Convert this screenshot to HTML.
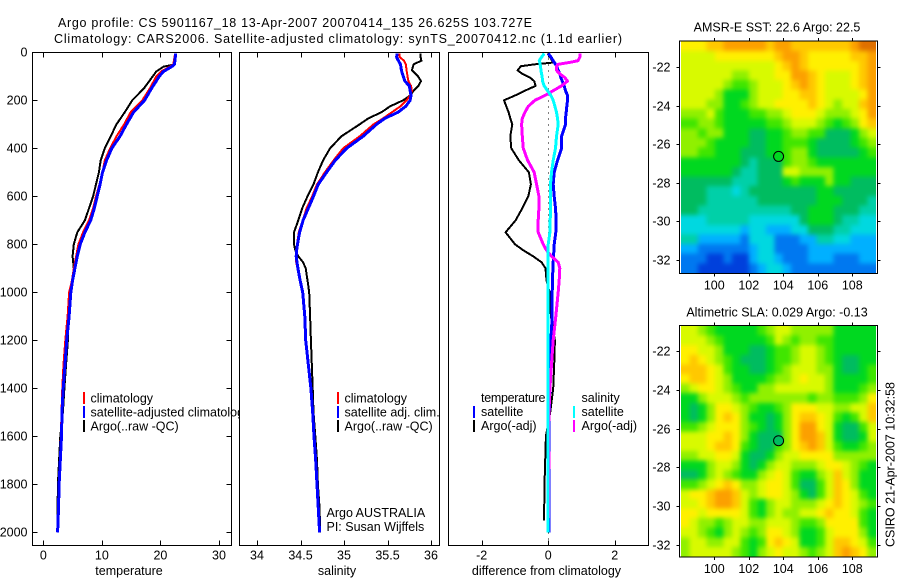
<!DOCTYPE html>
<html>
<head>
<meta charset="utf-8">
<title>Argo profile</title>
<style>
html,body{margin:0;padding:0;background:#fff;}
svg{display:block;font-family:"Liberation Sans",sans-serif;font-size:12.5px;fill:#000;}
</style>
</head>
<body>
<svg id="fig" xmlns="http://www.w3.org/2000/svg" width="900" height="580" viewBox="0 0 900 580">
  <defs>
    <clipPath id="clipLegend"><rect x="0" y="0" width="239" height="580"/></clipPath>
    <clipPath id="clip-sst"><rect x="681" y="41.5" width="195" height="231.5"/></clipPath>
    <clipPath id="clip-sla"><rect x="681" y="326" width="195" height="230.5"/></clipPath>
    <filter id="cellBlur" filterUnits="userSpaceOnUse" x="650" y="0" width="250" height="580" color-interpolation-filters="sRGB"><feGaussianBlur stdDeviation="2.4"/></filter>
  </defs>
  <rect x="0" y="0" width="900" height="580" fill="#fff"/>
  <text x="58" y="27" textLength="474" lengthAdjust="spacing">Argo profile: CS 5901167_18 13-Apr-2007 20070414_135 26.625S 103.727E</text>
  <text x="54" y="43" textLength="568" lengthAdjust="spacing">Climatology: CARS2006. Satellite-adjusted climatology: synTS_20070412.nc (1.1d earlier)</text>
  <g id="plots"></g>
  <g>
    <rect x="83" y="392" width="2" height="12" fill="#ff0000"/>
    <rect x="83" y="406" width="2" height="12" fill="#0000ff"/>
    <rect x="83" y="420" width="2" height="12" fill="#000000"/>
    <text x="90.5" y="402.5">climatology</text>
    <text x="90.5" y="416.5" clip-path="url(#clipLegend)">satellite-adjusted climatology</text>
    <text x="90.5" y="430.5">Argo(..raw -QC)</text>
  </g>
  <g>
    <rect x="337" y="392" width="2" height="12" fill="#ff0000"/>
    <rect x="337" y="406" width="2" height="12" fill="#0000ff"/>
    <rect x="337" y="420" width="2" height="12" fill="#000000"/>
    <text x="344.5" y="402.5">climatology</text>
    <text x="344.5" y="416.5">satellite adj. clim.</text>
    <text x="344.5" y="430.5">Argo(..raw -QC)</text>
    <text x="326.5" y="517">Argo AUSTRALIA</text>
    <text x="326.5" y="531">PI: Susan Wijffels</text>
  </g>
  <g>
    <text x="481" y="402" textLength="64.5" lengthAdjust="spacing">temperature</text>
    <text x="581.5" y="402">salinity</text>
    <rect x="473" y="406" width="2" height="12" fill="#0000ff"/>
    <rect x="473" y="420" width="2" height="12" fill="#000000"/>
    <rect x="573" y="406" width="2" height="12" fill="#00ffff"/>
    <rect x="573" y="420" width="2" height="12" fill="#ff00ff"/>
    <text x="481" y="416">satellite</text>
    <text x="481" y="430">Argo(-adj)</text>
    <text x="581.5" y="416">satellite</text>
    <text x="581.5" y="430">Argo(-adj)</text>
  </g>
  <text x="129" y="575" text-anchor="middle">temperature</text>
  <text x="337" y="575" text-anchor="middle">salinity</text>
  <text x="546.5" y="575" text-anchor="middle">difference from climatology</text>
  <text x="777" y="31.5" text-anchor="middle">AMSR-E SST: 22.6 Argo: 22.5</text>
  <text x="777" y="316.5" text-anchor="middle">Altimetric SLA: 0.029 Argo: -0.13</text>
  <text transform="translate(894.5,547) rotate(-90)" textLength="165" lengthAdjust="spacing">CSIRO 21-Apr-2007 10:32:58</text>
</svg>
<script>
// ---------- profile data ----------
const depthTicks = [0,200,400,600,800,1000,1200,1400,1600,1800,2000];
const tempTicks = [0,10,20,30];
const salTicks = [34,34.5,35,35.5,36];
const diffTicks = [-2,0,2];

const tempDepths = [5,50,60,80,100,150,200,250,300,350,400,450,500,550,600,650,700,750,800,850,900,950,1000,1100,1200,1300,1400,1500,1600,1700,1800,1900,2000];
const tempArgo = [22.6,22.5,20.5,19.3,18.7,17.2,15.2,13.9,12.5,11.5,10.5,9.8,9.5,9.0,8.5,7.8,7.1,5.8,5.2,5.0,5.2,4.9,4.7,4.25,4.2,3.9,3.6,3.35,2.9,2.7,2.5,2.45,2.4];
const tempClim = [22.5,22.2,21.6,20.1,19.3,18.2,16.9,14.9,13.8,12.5,11.4,10.5,10.1,9.6,9.0,8.5,7.8,6.8,6.0,5.6,5.2,4.9,4.4,4.15,3.75,3.45,3.25,3.1,3.0,2.85,2.65,2.55,2.4];
const tempSat = [22.6,22.4,21.9,20.5,19.8,18.5,17.3,15.4,14.2,13.1,11.7,10.8,10.1,9.7,9.2,8.7,8.1,7.1,6.3,5.8,5.4,5.0,4.7,4.4,4.0,3.7,3.4,3.2,3.1,2.9,2.7,2.6,2.45];

const salDepths = [5,20,35,50,75,100,120,140,160,180,200,225,250,275,300,350,400,450,500,550,600,650,700,750,800,825,850,875,900,950,1000,1100,1200,1300,1400,1500,1600,1700,1800,1900,2000];
const salArgo = [35.88,35.88,35.89,35.80,35.78,35.85,35.885,35.855,35.80,35.76,35.68,35.53,35.43,35.28,35.18,34.97,34.84,34.76,34.70,34.65,34.58,34.52,34.475,34.425,34.425,34.44,34.475,34.53,34.56,34.58,34.60,34.61,34.62,34.63,34.64,34.65,34.67,34.69,34.70,34.72,34.725];
const salClim = [35.64,35.64,35.69,35.71,35.72,35.73,35.74,35.77,35.78,35.76,35.72,35.65,35.55,35.45,35.34,35.18,34.99,34.88,34.78,34.69,34.635,34.57,34.525,34.48,34.46,34.45,34.445,34.45,34.465,34.495,34.52,34.545,34.565,34.595,34.625,34.645,34.66,34.68,34.695,34.71,34.72];
const salSat = [35.61,35.605,35.625,35.65,35.66,35.68,35.70,35.75,35.76,35.77,35.76,35.71,35.62,35.47,35.375,35.22,35.03,34.90,34.80,34.705,34.65,34.59,34.53,34.49,34.465,34.455,34.45,34.46,34.47,34.495,34.525,34.55,34.56,34.59,34.62,34.64,34.655,34.675,34.69,34.705,34.72];

const diffDepths = [5,20,35,42,50,58,75,90,105,120,140,160,180,200,225,250,275,300,350,400,450,500,550,600,650,700,750,800,825,850,875,900,950,1000,1100,1200,1300,1400,1500,1600,1700,1800,1900,1950,2000];
const diffTempArgo = [-0.02,0.05,0.12,0.2,-0.4,-0.82,-0.92,-0.78,-0.55,-0.42,-0.38,-0.7,-1.0,-1.33,-1.26,-1.19,-1.14,-1.08,-1.14,-1.11,-0.88,-0.58,-0.52,-0.6,-0.78,-0.98,-1.28,-1.0,-0.75,-0.45,-0.2,-0.08,-0.05,0.04,0.08,0.2,0.18,0.15,0.06,-0.07,-0.09,-0.11,-0.12,-0.13,null];
const diffTempSat = [0,0.08,0.15,0.18,0.22,0.25,0.3,0.35,0.38,0.42,0.48,0.52,0.58,0.58,0.56,0.54,0.52,0.52,0.4,0.4,0.28,0.18,0.15,0.18,0.22,0.24,0.23,0.18,0.17,0.16,0.15,0.14,0.13,0.12,0.12,0.08,0.06,0.05,0.03,0.02,0.02,0.02,0.02,0.02,0.02];
const diffSalArgo = [0.95,0.95,0.9,0.65,0.3,0.25,0.25,0.35,0.5,0.58,0.4,0.15,-0.1,-0.4,-0.6,-0.7,-0.78,-0.8,-0.78,-0.75,-0.62,-0.42,-0.35,-0.28,-0.28,-0.3,-0.3,-0.15,-0.05,0.1,0.3,0.35,0.33,0.3,0.23,0.15,0.1,0.05,0.02,0.01,0.02,0.01,0.01,0,0];
const diffSalSat = [-0.12,-0.2,-0.27,-0.25,-0.25,-0.23,-0.22,-0.2,-0.18,-0.17,-0.12,-0.02,0.08,0.15,0.2,0.25,0.28,0.3,0.25,0.22,0.15,0.1,0.07,0.07,0.07,0.06,0.05,0,-0.01,-0.01,-0.01,-0.01,-0.01,-0.01,-0.01,-0.01,-0.01,-0.01,-0.01,-0.01,-0.01,-0.01,-0.01,-0.01,-0.01];

// ---------- map data (values are colour-scale levels, low to high) ----------
const lonTicks = [100,102,104,106,108];
const latTicks = [-22,-24,-26,-28,-30,-32];
const floatLon = 103.727;
const floatLat = -26.625;
const sstFloatLevel = 6;
const slaFloatLevel = 5;
const sstGrid = [
[10,10,10,11,11,12,12,12,12,12,11,12,12,11,11,11,11,11,11,11,12,13,13],
[9,9,9,9,10,10,10,10,10,10,10,11,12,12,11,10,10,10,10,10,11,11,12],
[9,9,9,9,9,9,9,9,9,9,9,10,11,12,11,10,10,10,10,10,10,11,12],
[9,9,9,9,9,9,8,8,9,9,9,10,10,12,12,11,10,9,9,9,10,11,12],
[9,9,9,9,9,8,7,7,8,9,9,9,10,11,12,11,10,9,9,9,10,11,12],
[9,9,9,9,8,6,6,6,8,9,9,9,10,10,11,11,10,9,9,9,9,10,12],
[9,9,9,8,8,6,6,7,8,9,9,10,10,10,10,11,10,9,8,9,9,11,12],
[8,8,8,9,7,6,6,6,7,7,8,8,9,10,10,10,9,8,8,8,9,10,12],
[7,7,8,8,7,6,6,6,6,6,7,7,8,9,9,9,8,7,6,7,8,10,11],
[8,8,7,8,8,6,6,6,5,5,6,6,7,8,8,7,7,5,5,5,6,8,9],
[8,8,8,7,6,6,6,6,5,5,6,6,7,7,7,6,5,5,5,5,6,7,8],
[8,8,7,7,6,6,6,5,5,5,6,6,7,8,8,6,5,5,5,5,5,6,7],
[6,6,6,6,6,6,6,5,4,5,5,5,7,8,8,7,6,6,6,6,6,6,6],
[6,6,6,6,6,6,5,4,4,5,5,5,9,9,8,8,8,8,6,6,6,6,6],
[5,5,5,5,5,5,4,4,4,5,5,5,6,7,6,6,6,8,6,6,5,5,5],
[5,5,5,4,4,4,3,4,5,5,5,5,5,5,5,5,6,6,5,5,5,5,5],
[5,5,5,4,4,4,4,4,4,5,5,5,5,5,5,5,6,6,6,5,5,5,4],
[5,5,4,4,4,4,4,4,4,4,4,4,4,5,5,6,6,6,5,5,5,4,4],
[3,3,3,4,4,4,4,4,3,3,3,3,3,3,5,6,6,6,5,4,4,3,3],
[3,3,3,3,3,3,3,2,3,3,2,2,2,3,3,5,5,5,4,4,3,3,3],
[4,4,2,2,2,2,2,1,3,3,3,1,1,1,2,2,4,4,3,3,2,2,2],
[2,2,1,1,1,1,1,1,2,3,3,1,1,1,1,2,2,2,2,2,2,2,2],
[1,1,1,0,0,1,0,0,2,3,3,2,1,1,1,2,2,2,1,1,1,2,2],
[1,1,0,0,0,0,0,0,1,2,3,3,2,1,1,1,1,1,1,1,1,1,1]
];
const slaGrid = [
[9,9,8,7,6,6,6,6,6,7,8,9,9,8,8,8,8,8,6,6,6,6,6],
[9,9,9,8,7,6,6,6,6,6,7,9,8,7,8,8,7,7,6,6,6,6,6],
[10,10,9,9,8,6,6,6,5,5,6,7,7,8,9,9,8,7,6,6,6,6,6],
[10,11,10,9,8,7,6,5,5,5,6,7,7,8,9,9,8,7,6,5,5,6,6],
[11,11,11,10,9,7,6,6,5,5,6,7,8,9,9,9,8,8,6,5,5,6,7],
[10,11,11,10,9,8,6,6,6,6,7,8,8,9,10,9,9,8,6,6,6,6,7],
[8,9,10,10,9,8,7,6,6,8,8,9,9,9,9,9,9,8,6,6,6,7,8],
[6,6,8,9,9,9,8,7,8,8,8,8,8,8,8,7,8,8,7,7,7,8,10],
[6,5,6,8,10,10,9,8,7,6,6,7,8,10,10,10,9,9,8,8,9,9,11],
[6,5,6,8,10,11,10,8,6,6,5,6,8,10,11,11,10,9,7,6,7,9,11],
[7,7,8,9,10,10,10,8,7,6,5,6,8,10,12,12,10,9,6,5,5,7,9],
[9,9,9,10,10,11,10,8,6,5,5,5,8,10,12,12,11,9,6,5,5,6,9],
[9,9,9,10,11,11,10,7,6,5,5,7,8,10,11,12,11,9,7,6,6,7,8],
[8,8,9,9,10,10,9,6,5,5,6,8,9,9,10,10,10,10,8,8,8,8,8],
[6,6,6,8,9,9,8,6,5,6,8,9,9,8,8,8,9,10,10,9,8,7,6],
[5,5,6,8,9,8,7,6,6,8,9,10,9,7,6,6,8,9,11,9,8,6,6],
[7,7,8,9,10,11,10,8,8,9,10,10,9,7,5,5,7,9,11,10,8,6,6],
[9,10,10,11,12,12,11,9,8,9,10,10,9,8,6,5,7,9,11,10,9,7,6],
[9,9,10,11,12,12,11,9,7,6,8,9,9,8,8,8,9,10,11,10,9,8,7],
[10,10,9,10,10,10,10,9,7,6,8,9,8,8,9,9,10,11,10,10,9,7,6],
[10,9,8,8,7,8,9,9,8,8,9,9,9,8,7,7,8,10,10,10,10,7,6],
[9,9,8,7,6,8,9,8,7,8,10,10,9,8,6,6,7,9,10,10,10,8,6],
[8,9,9,8,8,9,9,7,6,7,10,11,10,9,6,6,7,9,11,11,10,9,7],
[8,9,9,9,9,9,8,7,6,8,9,10,9,9,8,7,8,9,11,12,11,10,8]
];

// ---------- helpers ----------
const NS = 'http://www.w3.org/2000/svg';
const plots = document.getElementById('plots');
const palette = ['#0040dc','#0078f0','#00b0ff','#00d8e0','#00d0a8','#00bc60','#00d820','#40e600','#90f000','#d8fa00','#fff000','#ffc800','#fca000','#e07000'];
const levelColor = v => palette[Math.max(0, Math.min(palette.length - 1, Math.round(v)))];

function svgEl(tag, attrs, parent) {
  const el = document.createElementNS(NS, tag);
  for (const k in attrs) el.setAttribute(k, attrs[k]);
  (parent || plots).appendChild(el);
  return el;
}
function linearScale(v0, p0, v1, p1) {
  return v => p0 + (v - v0) * (p1 - p0) / (v1 - v0);
}
const depthY = linearScale(0, 52.3, 2000, 532.3);

function drawAxesBox(name, x0, x1, y0, y1) {
  const r = svgEl('rect', {x:x0, y:y0, width:x1-x0, height:y1-y0, fill:'#fff', stroke:'#000', 'stroke-width':1, 'shape-rendering':'crispEdges'});
  
  
}
function drawFrame(name, x0, x1, y0, y1) {
  const r = svgEl('rect', {x:x0, y:y0, width:x1-x0, height:y1-y0, fill:'none', stroke:'#000', 'stroke-width':1, 'shape-rendering':'crispEdges'});
  
  
}
function tickLine(x1, y1, x2, y2) {
  const t = svgEl('line', {x1:x1, y1:y1, x2:x2, y2:y2, stroke:'#000', 'stroke-width':1, 'shape-rendering':'crispEdges'});
  
  
}
function tickLabel(str, x, y, anchor) {
  const t = svgEl('text', {x:x, y:y, 'text-anchor':anchor});
  t.textContent = str;
  
  
}
function drawSeries(name, depths, values, xFn, color, width) {
  const pts = [];
  values.forEach((v, i) => {
    if (v !== null) pts.push(xFn(v).toFixed(1) + ',' + depthY(depths[i]).toFixed(1));
  });
  const p = svgEl('polyline', {points:pts.join(' '), fill:'none', stroke:color, 'stroke-width':width, 'shape-rendering':'crispEdges', 'stroke-linejoin':'round'});
  
  
}
function drawXTicks(ticks, xFn, yTop, yBot) {
  ticks.forEach(v => {
    const x = Math.round(xFn(v)) + 0.5;
    tickLine(x, yTop, x, yTop + 5);
    tickLine(x, yBot - 5, x, yBot);
    tickLabel(String(v), xFn(v), 559.5, 'middle');
  });
}

// ---------- temperature panel ----------
const tempX = linearScale(0, 43.3, 30, 219);
drawAxesBox('temperature-axes', 32.5, 231.5, 52.5, 545.5);
drawXTicks(tempTicks, tempX, 52.5, 545.5);
depthTicks.forEach(d => {
  const y = Math.round(depthY(d)) + 0.5;
  tickLine(32.5, y, 37.5, y);
  tickLine(226.5, y, 231.5, y);
  tickLabel(String(d), 27.5, y + 4, 'end');
});
drawSeries('temperature-argo-line', tempDepths, tempArgo, tempX, '#000000', 2);
drawSeries('temperature-climatology-line', tempDepths, tempClim, tempX, '#ff0000', 2);
drawSeries('temperature-satellite-line', tempDepths, tempSat, tempX, '#0000ff', 3);

// ---------- salinity panel ----------
const salX = linearScale(34, 257, 36, 431);
drawAxesBox('salinity-axes', 239.5, 439.5, 52.5, 545.5);
drawXTicks(salTicks, salX, 52.5, 545.5);
drawSeries('salinity-argo-line', salDepths, salArgo, salX, '#000000', 2);
drawSeries('salinity-climatology-line', salDepths, salClim, salX, '#ff0000', 2);
drawSeries('salinity-satellite-line', salDepths, salSat, salX, '#0000ff', 3);

// ---------- difference panel ----------
const diffX = linearScale(-2, 481.7, 2, 614.7);
drawAxesBox('difference-axes', 448.5, 648.5, 52.5, 545.5);
drawXTicks(diffTicks, diffX, 52.5, 545.5);
const zeroX = Math.round(diffX(0)) + 0.5;
const zeroLine = svgEl('line', {x1:zeroX, y1:52.5, x2:zeroX, y2:545, stroke:'#000', 'stroke-width':1, 'stroke-dasharray':'1 5', 'shape-rendering':'crispEdges'});


drawSeries('difference-temperature-argo-line', diffDepths, diffTempArgo, diffX, '#000000', 2);
drawSeries('difference-temperature-satellite-line', diffDepths, diffTempSat, diffX, '#0000ff', 3);
drawSeries('difference-salinity-argo-line', diffDepths, diffSalArgo, diffX, '#ff00ff', 3);
drawSeries('difference-salinity-satellite-line', diffDepths, diffSalSat, diffX, '#00ffff', 3);

// ---------- maps ----------
function drawMap(prefix, grid, top, bottom, lat22y, latStep, floatLevel) {
  const lonX = linearScale(100, 714.3, 108, 852.3);
  const latY = linearScale(-22, lat22y, -32, lat22y + latStep * 10);
  const left = 681, right = 876;
  const rows = grid.length;
  const cols = grid[0].length;
  const cw = (right - left) / cols;
  const ch = (bottom - top) / rows;
  const clipGroup = svgEl('g', {'clip-path':'url(#clip-' + prefix + ')'});
  
  
  const blurGroup = svgEl('g', {filter:'url(#cellBlur)'}, clipGroup);
  
  
  const bleed = 10;
  grid.forEach((row, j) => {
    row.forEach((v, i) => {
      const x0 = i === 0 ? left - bleed : left + i * cw;
      const x1 = i === cols - 1 ? right + bleed : left + (i + 1) * cw + 0.3;
      const y0 = j === 0 ? top - bleed : top + j * ch;
      const y1 = j === rows - 1 ? bottom + bleed : top + (j + 1) * ch + 0.3;
      const c = svgEl('rect', {x:x0, y:y0, width:x1 - x0, height:y1 - y0, fill:levelColor(v), 'shape-rendering':'crispEdges'}, blurGroup);
      
      
    });
  });
  const axTop = top - 0.5, axBot = bottom + 0.5;
  drawFrame(prefix + '-map-frame', 679.5, 877.5, axTop, axBot);
  lonTicks.forEach(v => {
    const x = Math.round(lonX(v)) + 0.5;
    tickLine(x, axTop - 3, x, axTop);
    tickLine(x, axBot, x, axBot + 3);
    tickLabel(String(v), lonX(v), axBot + 16, 'middle');
  });
  latTicks.forEach(v => {
    const y = Math.round(latY(v)) + 0.5;
    tickLine(676.5, y, 679.5, y);
    tickLine(877.5, y, 880.5, y);
    tickLabel(String(v), 670.5, y + 4, 'end');
  });
  const m = svgEl('circle', {cx:lonX(floatLon), cy:latY(floatLat), r:5, fill:levelColor(floatLevel), stroke:'#000', 'stroke-width':1});
  
  
}
drawMap('sst', sstGrid, 41.5, 273, 67.3, 19.27, sstFloatLevel);
drawMap('sla', slaGrid, 326, 556.5, 351, 19.4, slaFloatLevel);
</script>
</body>
</html>
